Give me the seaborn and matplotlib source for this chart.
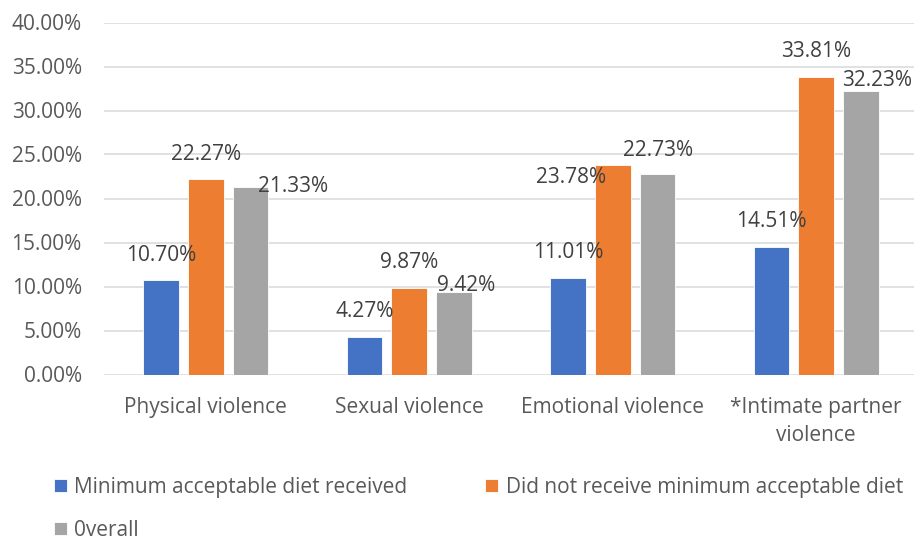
import matplotlib
matplotlib.use("Agg")
import matplotlib.pyplot as plt
import seaborn as sns
import pandas as pd
from matplotlib.ticker import FuncFormatter, MultipleLocator

categories = ["Physical violence", "Sexual violence", "Emotional violence",
              "*Intimate partner\nviolence"]
series_names = ["Minimum acceptable diet received",
                "Did not receive minimum acceptable diet",
                "0verall"]
received = [10.70, 4.27, 11.01, 14.51]
not_received = [22.27, 9.87, 23.78, 33.81]
overall = [21.33, 9.42, 22.73, 32.23]
colors = ["#4472C4", "#ED7D31", "#A5A5A5"]

# per-label nudges (pixels) from each bar's top-centre, one list per series
label_nudges = [
    [(0, 25), (0, 25), (0, 25), (0, 25)],
    [(0, 24), (0, 25), (-42, -12), (0, 25)],
    [(42, 0), (12, 6), (0, 24), (16, 10)],
]

rows = []
for name, vals in zip(series_names, [received, not_received, overall]):
    for cat, v in zip(categories, vals):
        rows.append({"category": cat, "series": name, "value": v})
df = pd.DataFrame(rows)

sns.set_style("white")
plt.rcParams["font.family"] = ["Open Sans", "DejaVu Sans"]

FS = 15
DPI = 100
fig = plt.figure(figsize=(9.14, 5.40), dpi=DPI)
ax = fig.add_axes([104 / 914, 1 - 374.5 / 540, 814 / 914, 352 / 540])

sns.barplot(data=df, x="category", y="value", hue="series",
            hue_order=series_names, order=categories, palette=colors,
            width=0.663, gap=0.21, legend=False, ax=ax, saturation=1,
            linewidth=0.6, edgecolor="white")

ax.set_ylim(0, 40)
ax.set_xlim(-0.5, 3.5)
ax.yaxis.set_major_locator(MultipleLocator(5))
ax.yaxis.set_major_formatter(FuncFormatter(lambda v, p: f"{v:.2f}%"))
ax.grid(axis="y", color="#D9D9D9", linewidth=1.1)
ax.set_axisbelow(True)
for s in ax.spines.values():
    s.set_visible(False)
ax.set_xlabel("")
ax.set_ylabel("")
ax.tick_params(axis="y", length=0, pad=16, labelsize=FS, labelcolor="#595959")
ax.tick_params(axis="x", length=0, pad=16, labelsize=FS, labelcolor="#595959")
for lbl in ax.get_xticklabels():
    lbl.set_linespacing(1.45)

px = 72 / DPI
for cont, nudges in zip(ax.containers, label_nudges):
    for bar, (dx, dy) in zip(cont.patches, nudges):
        h = bar.get_height()
        ax.annotate(f"{h:.2f}%", xy=(bar.get_x() + bar.get_width() / 2, h),
                    xytext=(dx * px, dy * px), textcoords="offset points",
                    ha="center", va="center", fontsize=FS, color="#404040",
                    annotation_clip=False)

handles = [ax.containers[0], ax.containers[2], ax.containers[1]]
labels = [series_names[0], series_names[2], series_names[1]]
fig.legend(handles, labels, loc="upper left",
           bbox_to_anchor=(54 / 914, 1 - 477 / 540), bbox_transform=fig.transFigure,
           ncol=2, frameon=False, fontsize=FS, labelcolor="#595959",
           handlelength=0.62, handleheight=0.62, handletextpad=0.35,
           columnspacing=3.75, labelspacing=1.05, borderpad=0, borderaxespad=0)

fig.savefig("out.png", dpi=DPI)
